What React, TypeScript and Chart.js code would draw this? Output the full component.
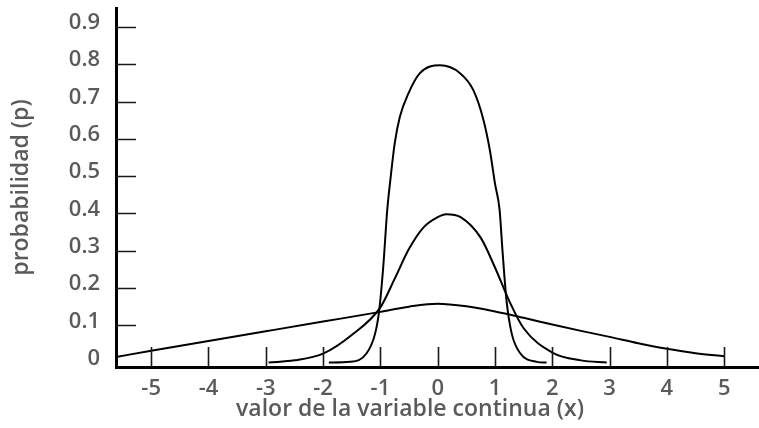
import React, { useEffect, useRef } from "react";
import { Chart, registerables } from "chart.js";

Chart.register(...registerables);

// ---- data ----
const xTickValues = [-5, -4, -3, -2, -1, 0, 1, 2, 3, 4, 5];
const yTickValues = [0, 0.1, 0.2, 0.3, 0.4, 0.5, 0.6, 0.7, 0.8, 0.9];

const wideX = [-5.61, -5, -4, -3, -2, -1, -0.5, 0, 0.5, 1, 1.5, 2, 2.5, 3, 3.5, 4, 4.5, 5];
const wideY = [0.015, 0.032, 0.058, 0.084, 0.11, 0.136, 0.15, 0.158, 0.151, 0.137, 0.12, 0.102, 0.085, 0.069, 0.052, 0.037, 0.025, 0.017];

const midX = [-2.95, -2.5, -2, -1.5, -1, -0.75, -0.5, -0.25, 0, 0.15, 0.4, 0.75, 1, 1.25, 1.5, 2, 2.5, 2.95];
const midY = [0, 0.006, 0.024, 0.074, 0.148, 0.225, 0.305, 0.362, 0.39, 0.398, 0.39, 0.335, 0.255, 0.165, 0.092, 0.027, 0.006, 0];

const tallX = [-1.9, -1.53, -1.24, -1.09, -1.02, -0.95, -0.88, -0.82, -0.75, -0.66, -0.51, -0.31, 0.04, 0.39, 0.62, 0.8, 0.91, 1.0, 1.08, 1.13, 1.2, 1.29, 1.44, 1.73, 1.9];
const tallY = [0, 0.002, 0.025, 0.079, 0.141, 0.257, 0.41, 0.498, 0.588, 0.659, 0.722, 0.776, 0.797, 0.776, 0.731, 0.65, 0.57, 0.48, 0.41, 0.302, 0.168, 0.079, 0.025, 0.002, 0];

const xTitle = "valor de la variable continua (x)";
const yTitle = "probabilidad (p)";

const X_MIN = -5.614;
const X_MAX = 5.59;
const Y_MIN = -0.0118;
const Y_MAX = 0.9507;

const TEXT_COLOR = "#5a5a5c";
const FONT_FAMILY = "'Open Sans', sans-serif";

const toPoints = (xs: number[], ys: number[]) => xs.map((x, i) => ({ x, y: ys[i] }));

const tickMarksPlugin = {
  id: "innerTicks",
  afterDatasetsDraw(chart: any) {
    const { ctx, chartArea, scales } = chart;
    const xs = scales.x;
    const ys = scales.y;
    ctx.save();
    ctx.strokeStyle = "#1a1a1a";
    ctx.lineWidth = 1.6;
    ctx.beginPath();
    xTickValues.forEach((v) => {
      const px = Math.round(xs.getPixelForValue(v)) + 0.5;
      ctx.moveTo(px, chartArea.bottom);
      ctx.lineTo(px, chartArea.bottom - 20);
    });
    yTickValues.forEach((v) => {
      if (v === 0) return;
      const py = Math.round(ys.getPixelForValue(v)) + 0.5;
      ctx.moveTo(chartArea.left, py);
      ctx.lineTo(chartArea.left + 20, py);
    });
    ctx.stroke();
    // x axis title
    ctx.fillStyle = TEXT_COLOR;
    ctx.font = `600 23px ${FONT_FAMILY}`;
    ctx.textAlign = "center";
    ctx.textBaseline = "middle";
    ctx.fillText(xTitle, 410, 409);
    ctx.restore();
  },
};

export default function App() {
  const canvasRef = useRef<HTMLCanvasElement | null>(null);

  useEffect(() => {
    if (!canvasRef.current) return;
    const lineStyle = {
      borderColor: "#000",
      borderWidth: 2,
      pointRadius: 0,
      fill: false,
      cubicInterpolationMode: "monotone" as const,
    };
    const chart = new Chart(canvasRef.current, {
      type: "line",
      data: {
        datasets: [
          { ...lineStyle, data: toPoints(wideX, wideY) },
          { ...lineStyle, data: toPoints(midX, midY) },
          { ...lineStyle, data: toPoints(tallX, tallY) },
        ],
      },
      options: {
        animation: false,
        responsive: false,
        layout: { padding: { top: 8, right: 1, left: 0, bottom: 0 } },
        plugins: { legend: { display: false }, tooltip: { enabled: false } },
        scales: {
          x: {
            type: "linear",
            min: X_MIN,
            max: X_MAX,
            afterFit: (s: any) => {
              s.height = 61;
              s.paddingLeft = 0;
              s.paddingRight = 0;
            },
            afterBuildTicks: (s: any) => {
              s.ticks = xTickValues.map((v) => ({ value: v }));
            },
            grid: { display: false, drawTicks: false },
            border: { display: true, color: "#000", width: 3 },
            ticks: {
              padding: 9,
              color: TEXT_COLOR,
              font: { family: FONT_FAMILY, size: 22, weight: "600" },
              callback: (v: any) => String(v),
            },
          },
          y: {
            type: "linear",
            min: Y_MIN,
            max: Y_MAX,
            afterFit: (s: any) => {
              s.width = 116;
              s.paddingTop = 0;
              s.paddingBottom = 0;
            },
            afterBuildTicks: (s: any) => {
              s.ticks = yTickValues.map((v) => ({ value: v }));
            },
            grid: { display: false, drawTicks: false },
            border: { display: true, color: "#000", width: 3 },
            ticks: {
              padding: 16,
              labelOffset: -4,
              color: TEXT_COLOR,
              font: { family: FONT_FAMILY, size: 22, weight: "600" },
              callback: (v: any) => (Number(v) === 0 ? "0" : Number(v).toFixed(1)),
            },
            title: {
              display: true,
              text: yTitle,
              color: TEXT_COLOR,
              font: { family: FONT_FAMILY, size: 23, weight: "600" },
              padding: { top: 8, bottom: 0 },
            },
          },
        },
      },
      plugins: [tickMarksPlugin],
    });
    return () => chart.destroy();
  }, []);

  return (
    <div style={{ position: "fixed", left: 0, top: 0, width: 759, height: 428, background: "#fff" }}>
      <canvas ref={canvasRef} width={759} height={428} />
    </div>
  );
}
